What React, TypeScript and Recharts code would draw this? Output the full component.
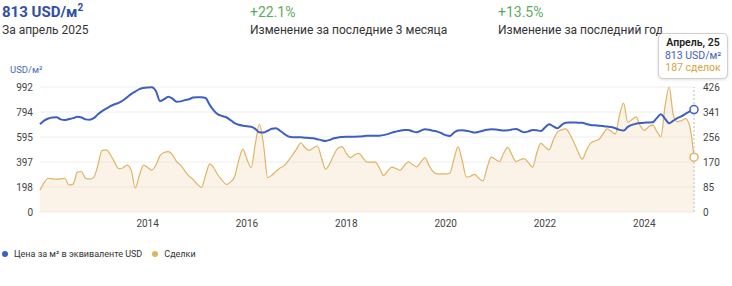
import { ComposedChart, Line, Area, XAxis, YAxis, CartesianGrid, ReferenceLine } from "recharts";

// monthly series, first point ~ Nov 2011, last point Apr 2025
const START = 2011 + 10 / 12;

const pricePerM2 = [
  696, 725, 742, 750, 752, 735, 730, 738, 745, 755, 750, 735, 732, 745, 775, 800, 820, 840, 855, 866,
  885, 910, 935, 955, 975, 984, 988, 990, 960, 880, 895, 915, 900, 875, 878, 888, 895, 908, 911, 911,
  905, 850, 805, 775, 762, 752, 730, 705, 692, 685, 680, 677, 660, 632, 630, 645, 660, 664, 645, 620,
  600, 593, 594, 593, 590, 588, 585, 578, 570, 564, 572, 585, 592, 595, 597, 598, 598, 599, 602, 606,
  606, 605, 606, 610, 618, 630, 638, 645, 650, 651, 640, 633, 645, 656, 652, 645, 638, 625, 610, 603,
  630, 646, 648, 645, 638, 630, 636, 645, 652, 656, 655, 650, 646, 648, 655, 659, 645, 633, 640, 651,
  648, 643, 670, 696, 680, 664, 690, 709, 710, 710, 709, 709, 698, 691, 688, 685, 682, 678, 674, 665,
  652, 646, 675, 691, 700, 706, 709, 710, 712, 745, 776, 740, 704, 725, 745, 760, 780, 798, 813,
];

const deals = [
  74, 100, 115, 113, 112, 113, 115, 92, 95, 135, 138, 115, 112, 118, 160, 210, 212, 196, 170, 148,
  150, 160, 145, 82, 125, 160, 152, 143, 160, 192, 203, 206, 195, 172, 160, 140, 122, 111, 95, 84,
  125, 164, 150, 126, 108, 94, 102, 120, 175, 214, 180, 151, 230, 299, 230, 117, 125, 138, 150, 158,
  175, 195, 215, 236, 220, 210, 218, 225, 185, 146, 165, 195, 218, 222, 200, 185, 195, 200, 185, 170,
  170, 170, 150, 124, 140, 153, 148, 142, 158, 171, 162, 154, 170, 185, 158, 137, 130, 130, 130, 132,
  180, 222, 175, 119, 122, 128, 115, 106, 150, 187, 180, 172, 200, 220, 195, 172, 178, 182, 168, 153,
  200, 234, 222, 212, 245, 272, 280, 283, 265, 237, 205, 180, 210, 234, 242, 247, 265, 283, 275, 266,
  330, 371, 306, 315, 324, 295, 278, 290, 297, 275, 257, 360, 426, 330, 308, 312, 318, 290, 187,
];

const yearTicks = [2014, 2016, 2018, 2020, 2022, 2024];
const priceTicks = [0, 198.4, 396.8, 595.2, 793.6, 992];
const dealTicks = [0, 85.2, 170.4, 255.6, 340.8, 426];

const BLUE = "#3d5fc2";
const GOLD = "#dfb462";
const FONT = "Roboto, 'Noto Sans', sans-serif";

const data = pricePerM2.map((p, i) => ({ t: START + i / 12, price: p, deals: deals[i] }));
const last = data[data.length - 1];

const lastDot = (color: string) => (props: any) => {
  const { cx, cy, index } = props;
  if (index !== data.length - 1) return <g key={index} />;
  return <circle key={index} cx={cx} cy={cy} r={4} fill="#fff" stroke={color} strokeWidth={1.5} />;
};

const abs = (left: number, top: number, extra: React.CSSProperties = {}): React.CSSProperties => ({
  position: "absolute",
  left,
  top,
  whiteSpace: "nowrap",
  ...extra,
});

export default function App() {
  return (
    <div style={{ position: "absolute", left: 0, top: 0, width: 732, height: 286, fontFamily: FONT, background: "#fff" }}>
      <div style={abs(2, 3, { fontSize: 15, fontWeight: 700, color: "#2f4fa6", lineHeight: "18px" })}>
        813 USD/м<sup style={{ fontSize: 10, lineHeight: 0 }}>2</sup>
      </div>
      <div style={abs(2, 22, { fontSize: 12, color: "#333", lineHeight: "16px" })}>За апрель 2025</div>
      <div style={abs(250, 3, { fontSize: 14, color: "#5aac5e", lineHeight: "18px" })}>+22.1%</div>
      <div style={abs(250, 22, { fontSize: 12, color: "#333", lineHeight: "16px" })}>
        Изменение за последние 3 месяца
      </div>
      <div style={abs(498, 3, { fontSize: 14, color: "#5aac5e", lineHeight: "18px" })}>+13.5%</div>
      <div style={abs(498, 22, { fontSize: 12, color: "#333", lineHeight: "16px" })}>
        Изменение за последний год
      </div>
      <div style={abs(10, 64, { fontSize: 9.5, color: "#4a6bc4", lineHeight: "12px" })}>USD/м²</div>

      <div style={abs(0, 0)}>
        <ComposedChart width={732} height={242} data={data} margin={{ top: 87, right: 0, bottom: 0, left: 0 }}>
          <CartesianGrid yAxisId="price" vertical={false} stroke="#eeeeee" />
          <XAxis
            dataKey="t"
            type="number"
            domain={["dataMin", "dataMax"]}
            ticks={yearTicks}
            tickFormatter={(v) => String(v)}
            axisLine={false}
            tickLine={false}
            tickSize={0}
            tickMargin={8}
            height={30}
            tick={{ fontSize: 10, fill: "#444", fontFamily: FONT }}
          />
          <YAxis
            yAxisId="price"
            orientation="left"
            width={40}
            domain={[0, 992]}
            ticks={priceTicks}
            tickFormatter={(v) => String(Math.round(v))}
            axisLine={false}
            tickLine={false}
            tickSize={0}
            tickMargin={7}
            tick={{ fontSize: 10, fill: "#444", fontFamily: FONT }}
          />
          <YAxis
            yAxisId="deals"
            orientation="right"
            width={38}
            domain={[0, 426]}
            ticks={dealTicks}
            tickFormatter={(v) => String(Math.round(v))}
            axisLine={false}
            tickLine={false}
            tickSize={0}
            tickMargin={9}
            tick={{ fontSize: 10, fill: "#444", fontFamily: FONT, textAnchor: "start" }}
          />
          <ReferenceLine yAxisId="price" x={last.t} stroke="#bbbbbb" strokeDasharray="2 2" />
          <Area
            yAxisId="deals"
            dataKey="deals"
            type="monotone"
            stroke={GOLD}
            strokeWidth={1.2}
            fill="#f6d6b2"
            fillOpacity={0.3}
            dot={lastDot(GOLD)}
            activeDot={false}
            isAnimationActive={false}
          />
          <Line
            yAxisId="price"
            dataKey="price"
            type="monotone"
            stroke={BLUE}
            strokeWidth={2}
            dot={lastDot(BLUE)}
            activeDot={false}
            isAnimationActive={false}
          />
        </ComposedChart>
      </div>

      <div
        style={abs(658, 33, {
          width: 68,
          padding: "3px 0",
          border: "1px solid #cfcfcf",
          borderRadius: 5,
          background: "#fff",
          boxShadow: "0 1px 3px rgba(0,0,0,0.12)",
          textAlign: "center",
          fontSize: 10.5,
          lineHeight: "12.5px",
        })}
      >
        <div style={{ color: "#222", fontWeight: 600 }}>Апрель, 25</div>
        <div style={{ color: BLUE }}>813 USD/м²</div>
        <div style={{ color: "#d9a441" }}>187 сделок</div>
      </div>

      <div style={abs(2, 248, { fontSize: 9, color: "#333", display: "flex", alignItems: "center", lineHeight: "12px" })}>
        <span style={{ display: "inline-block", width: 6, height: 6, borderRadius: 3, background: BLUE, marginRight: 6 }} />
        <span>Цена за м² в эквиваленте USD</span>
        <span style={{ display: "inline-block", width: 6, height: 6, borderRadius: 3, background: GOLD, marginLeft: 10, marginRight: 6 }} />
        <span>Сделки</span>
      </div>
    </div>
  );
}
